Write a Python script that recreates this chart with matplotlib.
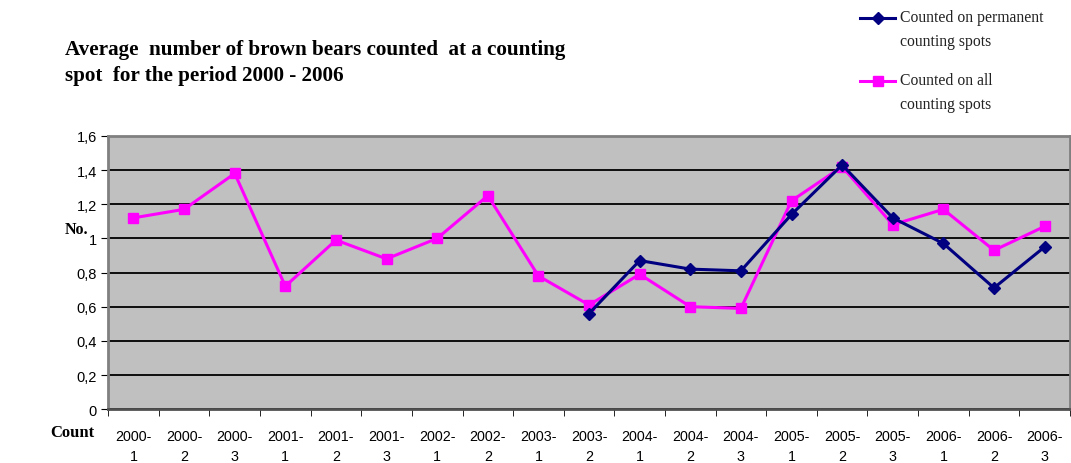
import matplotlib
matplotlib.use('Agg')
import matplotlib.pyplot as plt
from matplotlib.lines import Line2D
import numpy as np

# survey periods (year-count)
periods = ['2000-\n1', '2000-\n2', '2000-\n3', '2001-\n1', '2001-\n2', '2001-\n3',
           '2002-\n1', '2002-\n2', '2003-\n1', '2003-\n2', '2004-\n1', '2004-\n2',
           '2004-\n3', '2005-\n1', '2005-\n2', '2005-\n3', '2006-\n1', '2006-\n2',
           '2006-\n3']

# permanent spots were only counted from 2003-2 on
permanent = [None, None, None, None, None, None, None, None, None,
             0.56, 0.87, 0.82, 0.81, 1.14, 1.43, 1.12, 0.97, 0.71, 0.95]
all_spots = [1.12, 1.17, 1.38, 0.72, 0.99, 0.88, 1.00, 1.25, 0.78,
             0.61, 0.79, 0.60, 0.59, 1.22, 1.42, 1.08, 1.17, 0.93, 1.07]

y_ticks = [0, 0.2, 0.4, 0.6, 0.8, 1.0, 1.2, 1.4, 1.6]

sans = ['Liberation Sans Narrow', 'Liberation Sans', 'DejaVu Sans']
serif = ['Liberation Serif', 'DejaVu Serif']

navy = '#000080'
pink = '#ff00ff'

fig = plt.figure(figsize=(10.71, 4.64), dpi=100)
ax = fig.add_axes([0.101, 0.116, 0.898, 0.589])
ax.set_facecolor('#c0c0c0')

x = np.arange(len(periods))
perm = np.array([np.nan if v is None else v for v in permanent], dtype=float)

ax.plot(x, perm, color=navy, lw=2.2, marker='D', ms=6.5, zorder=4)
ax.plot(x, all_spots, color=pink, lw=2.2, marker='s', ms=7.5, zorder=3)

ax.set_xlim(-0.5, len(periods) - 0.5)
ax.set_ylim(0, 1.6)
ax.set_yticks(y_ticks)
ax.set_yticklabels([('%g' % v).replace('.', ',') for v in y_ticks],
                   family=sans, fontsize=10.5)
ax.yaxis.grid(True, color='black', lw=1.3)
ax.set_axisbelow(True)

ax.set_xticks(x)
ax.set_xticklabels(periods, family=sans, fontsize=10.3, linespacing=1.55)
ax.set_xticks(np.arange(len(periods) + 1) - 0.5, minor=True)
ax.tick_params(axis='x', which='major', length=0, pad=14)
ax.tick_params(axis='x', which='minor', length=5, color='black')
ax.tick_params(axis='y', length=5, color='black', pad=3)

for side in ['top', 'right', 'left']:
    ax.spines[side].set_color('#808080')
    ax.spines[side].set_linewidth(2)
ax.spines['bottom'].set_color('#505050')
ax.spines['bottom'].set_linewidth(2)

fig.text(0.061, 0.865, 'Average  number of brown bears counted  at a counting\n'
         'spot  for the period 2000 - 2006', family=serif, fontweight='bold',
         fontsize=15.2, va='center', ha='left', linespacing=1.4)
fig.text(0.060, 0.505, 'No.', family=serif, fontweight='bold', fontsize=11.5,
         va='center', ha='left')
fig.text(0.047, 0.067, 'Count', family=serif, fontweight='bold', fontsize=12,
         va='center', ha='left')

# legend drawn by hand: marker sits on the first line of each label
legend_items = [(navy, 'D', 6.5, 'Counted on permanent\ncounting spots', 0.959),
                (pink, 's', 7.5, 'Counted on all\ncounting spots', 0.823)]
for color, marker, size, text, yy in legend_items:
    fig.add_artist(Line2D([0.803, 0.836], [yy, yy], color=color, lw=2.2,
                          transform=fig.transFigure))
    fig.add_artist(Line2D([0.8195], [yy], color=color, marker=marker, ms=size,
                          transform=fig.transFigure))
    fig.text(0.840, yy + 0.02, text, family=serif, fontsize=11.3, va='top',
             ha='left', linespacing=1.7, color='#222222')

fig.savefig('out.png', dpi=100)
